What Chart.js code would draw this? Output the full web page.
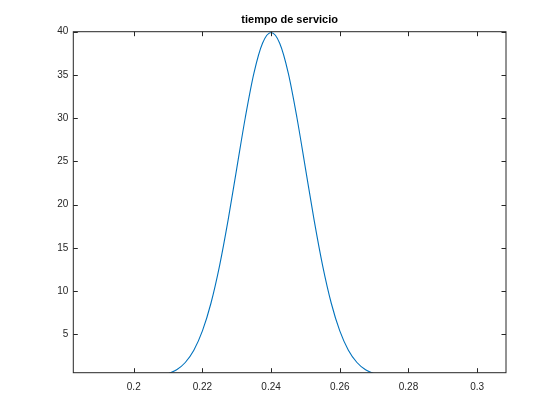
<!DOCTYPE html>
<html>
<head>
<meta charset="utf-8">
<script src="https://cdn.jsdelivr.net/npm/chart.js@4"></script>
<style>
  html, body { margin: 0; padding: 0; background: #fff; }
  #wrap { width: 560px; height: 420px; }
</style>
</head>
<body>
<div id="wrap"><canvas id="serviceChart" width="560" height="420"></canvas></div>
<script>
// valores
const tiempos = [0.21, 0.2125, 0.215, 0.2175, 0.22, 0.2225, 0.225, 0.2275, 0.23, 0.2325,
  0.235, 0.2375, 0.24, 0.2425, 0.245, 0.2475, 0.25, 0.2525, 0.255, 0.2575, 0.26,
  0.2625, 0.265, 0.2675, 0.27];
const densidad = [0.44, 0.91, 1.75, 3.17, 5.4, 8.63, 12.95, 18.26, 24.2, 30.11,
  35.21, 38.66, 39.9, 38.66, 35.21, 30.11, 24.2, 18.26, 12.95, 8.63, 5.4,
  3.17, 1.75, 0.91, 0.44];
const xTicks = [0.2, 0.22, 0.24, 0.26, 0.28, 0.3];
const yTicks = [5, 10, 15, 20, 25, 30, 35, 40];

const ejeColor = "#262626";
const fuente = "'Liberation Sans', Arial, Helvetica, sans-serif";

// caja y marcas hacia dentro, estilo MATLAB
const cajaPlugin = {
  id: "caja",
  afterDraw(chart) {
    const { ctx, chartArea: a, scales } = chart;
    const len = 4.5;
    ctx.save();
    ctx.strokeStyle = ejeColor;
    ctx.lineWidth = 1;
    ctx.strokeRect(a.left, a.top, a.right - a.left, a.bottom - a.top);
    ctx.beginPath();
    xTicks.forEach(v => {
      const px = Math.round(scales.x.getPixelForValue(v)) + 0.5;
      ctx.moveTo(px, a.bottom); ctx.lineTo(px, a.bottom - len);
      ctx.moveTo(px, a.top); ctx.lineTo(px, a.top + len);
    });
    yTicks.forEach(v => {
      const py = Math.round(scales.y.getPixelForValue(v)) + 0.5;
      ctx.moveTo(a.left, py); ctx.lineTo(a.left + len, py);
      ctx.moveTo(a.right, py); ctx.lineTo(a.right - len, py);
    });
    ctx.stroke();
    ctx.restore();
  }
};

new Chart(document.getElementById("serviceChart"), {
  type: "line",
  data: {
    datasets: [{
      data: tiempos.map((t, i) => ({ x: t, y: densidad[i] })),
      borderColor: "#0072BD",
      borderWidth: 1.1,
      pointRadius: 0,
      fill: false,
      cubicInterpolationMode: "monotone"
    }]
  },
  options: {
    responsive: false,
    animation: false,
    layout: { padding: { left: 0, right: 54, top: 0, bottom: 0 } },
    plugins: {
      legend: { display: false },
      tooltip: { enabled: false },
      title: {
        display: true,
        text: "tiempo de servicio",
        fullSize: false,
        color: "#000",
        font: { family: fuente, size: 11, weight: "bold" },
        padding: { top: 13.5, bottom: 5 }
      }
    },
    scales: {
      x: {
        type: "linear",
        min: 0.1824,
        max: 0.3084,
        grid: { display: false, drawTicks: false },
        border: { display: false },
        afterBuildTicks: s => { s.ticks = xTicks.map(v => ({ value: v })); },
        afterFit: s => { s.height = 47.3; },
        ticks: {
          color: ejeColor,
          font: { family: fuente, size: 10 },
          padding: 8.5,
          maxRotation: 0,
          autoSkip: false,
          callback: v => String(+v.toFixed(2))
        }
      },
      y: {
        min: 0.57,
        max: 40,
        grid: { display: false, drawTicks: false },
        border: { display: false },
        afterBuildTicks: s => { s.ticks = yTicks.map(v => ({ value: v })); },
        afterFit: s => { s.width = 73.3; },
        ticks: {
          color: ejeColor,
          font: { family: fuente, size: 10 },
          padding: 5,
          autoSkip: false,
          callback: v => String(v)
        }
      }
    }
  },
  plugins: [cajaPlugin]
});
</script>
</body>
</html>
